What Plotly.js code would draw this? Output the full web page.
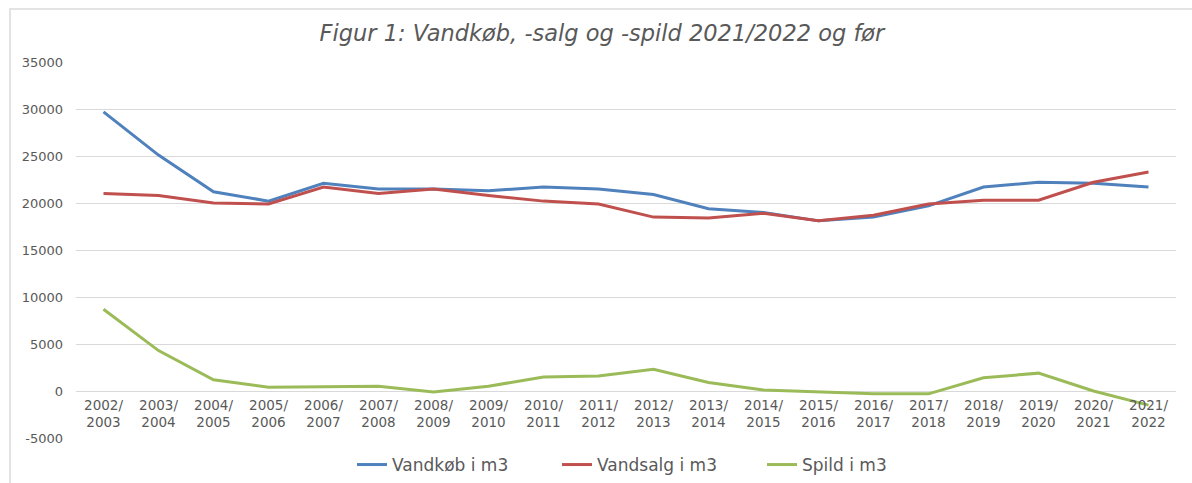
<!DOCTYPE html>
<html>
<head>
<meta charset="utf-8">
<script src="https://cdn.plot.ly/plotly-3.0.1.min.js"></script>
<style>
  html, body { margin: 0; padding: 0; background: #ffffff; }
  #wrap { position: relative; width: 1192px; height: 483px; overflow: hidden; }
  #chart { position: absolute; left: 0; top: 0; width: 1192px; height: 483px; }
  #frame { position: absolute; left: 9px; top: 8px; width: 1300px; height: 600px;
           border-top: 2px solid #e3e3e3; border-left: 2px solid #e3e3e3; pointer-events: none; }
</style>
</head>
<body>
<div id="wrap">
  <div id="chart"></div>
  <div id="frame"></div>
</div>
<script>
const categories = ["2002/<br>2003","2003/<br>2004","2004/<br>2005","2005/<br>2006","2006/<br>2007",
  "2007/<br>2008","2008/<br>2009","2009/<br>2010","2010/<br>2011","2011/<br>2012",
  "2012/<br>2013","2013/<br>2014","2014/<br>2015","2015/<br>2016","2016/<br>2017",
  "2017/<br>2018","2018/<br>2019","2019/<br>2020","2020/<br>2021","2021/<br>2022"];
const vandkob = [29700, 25100, 21200, 20200, 22100, 21500, 21500, 21300, 21700, 21500,
                 20900, 19400, 19000, 18100, 18500, 19700, 21700, 22200, 22100, 21700];
const vandsalg = [21000, 20800, 20000, 19900, 21700, 21000, 21500, 20800, 20200, 19900,
                  18500, 18400, 18900, 18100, 18700, 19900, 20300, 20300, 22200, 23300];
const spild = [8700, 4300, 1200, 400, 450, 500, -100, 500, 1500, 1600,
               2300, 900, 100, -100, -300, -300, 1400, 1900, 0, -1500];
const seriesNames = ["Vandkøb i m3", "Vandsalg i m3", "Spild i m3"];
const yTicks = [-5000, 0, 5000, 10000, 15000, 20000, 25000, 30000, 35000];

const colors = ["#4F81BD", "#C0504D", "#9BBB59"];
const values = [vandkob, vandsalg, spild];
const traces = values.map((v, i) => ({
  type: "scatter", mode: "lines", x: categories, y: v, name: seriesNames[i],
  line: { color: colors[i], width: 3 }, hoverinfo: "skip"
}));

const yMin = -5000, yMax = 35000;
const layout = {
  width: 1192, height: 483,
  margin: { l: 76, r: 16, t: 62, b: 45, autoexpand: false },
  paper_bgcolor: "rgba(0,0,0,0)", plot_bgcolor: "rgba(0,0,0,0)",
  font: { family: "DejaVu Sans", color: "#595959", size: 13 },
  title: {
    text: "<i>Figur 1: Vandkøb, -salg og -spild 2021/2022 og før</i>",
    font: { family: "DejaVu Sans", size: 22.5, color: "#595959" },
    xref: "container", x: 0.505, xanchor: "center",
    yref: "container", y: 1 - 33/483, yanchor: "middle"
  },
  xaxis: {
    type: "category", range: [-0.5, categories.length - 0.5],
    anchor: "free", position: (0 - yMin) / (yMax - yMin),
    showgrid: false, showline: false, zeroline: false, ticks: "",
    ticklabelstandoff: 4, automargin: false,
    tickfont: { family: "DejaVu Sans", size: 13.5, color: "#595959" }
  },
  yaxis: {
    range: [yMin, yMax], tickvals: yTicks, ticktext: yTicks.map(String),
    showgrid: true, gridcolor: "#d9d9d9", gridwidth: 1,
    zeroline: false, showline: false, ticks: "",
    ticklabelstandoff: 12, automargin: false,
    tickfont: { family: "DejaVu Sans", size: 13, color: "#595959" }
  },
  showlegend: true,
  legend: {
    orientation: "h", xref: "container", x: 352 / 1192, xanchor: "left",
    yref: "container", y: 1 - 465/483, yanchor: "middle",
    entrywidth: 160, entrywidthmode: "pixels",
    font: { family: "DejaVu Sans", size: 17, color: "#595959" },
    itemwidth: 30, tracegroupgap: 0, bgcolor: "rgba(0,0,0,0)"
  }
};

Plotly.newPlot("chart", traces, layout, { displayModeBar: false, staticPlot: true });
</script>
</body>
</html>
